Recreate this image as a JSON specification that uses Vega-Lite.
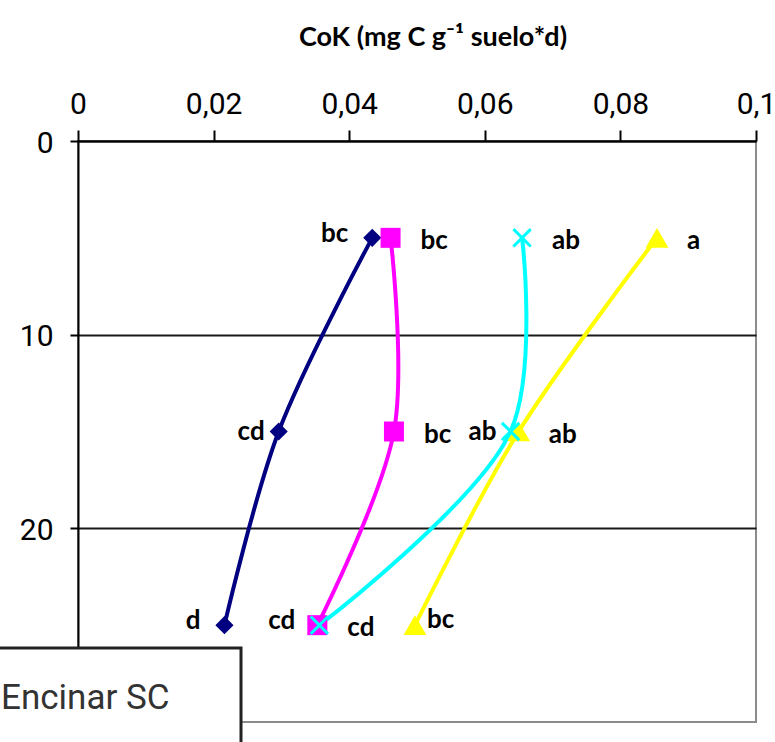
{
  "$schema": "https://vega.github.io/schema/vega-lite/v6.json",
  "autosize": {"type": "none"},
  "padding": {"left": 78, "top": 141, "right": 19, "bottom": 20},
  "width": 678,
  "height": 581,
  "background": "white",
  "title": {
    "text": "CoK (mg C g⁻¹ suelo*d)",
    "font": "Lato",
    "fontSize": 27,
    "fontWeight": "bold",
    "color": "black",
    "anchor": "middle",
    "dx": 16,
    "offset": 37
  },
  "data": {
    "values": [
      {"serie": "Encinar SC", "prof": 5, "cok": 0.0434, "letra": "bc"},
      {"serie": "Encinar SC", "prof": 15, "cok": 0.0296, "letra": "cd"},
      {"serie": "Encinar SC", "prof": 25, "cok": 0.0216, "letra": "d"},
      {"serie": "Serie 2", "prof": 5, "cok": 0.0461, "letra": "bc"},
      {"serie": "Serie 2", "prof": 15, "cok": 0.0466, "letra": "bc"},
      {"serie": "Serie 2", "prof": 25, "cok": 0.0353, "letra": "cd"},
      {"serie": "Serie 3", "prof": 5, "cok": 0.0854, "letra": "a"},
      {"serie": "Serie 3", "prof": 15, "cok": 0.0650, "letra": "ab"},
      {"serie": "Serie 3", "prof": 25, "cok": 0.0497, "letra": "bc"},
      {"serie": "Serie 4", "prof": 5, "cok": 0.0655, "letra": "ab"},
      {"serie": "Serie 4", "prof": 15, "cok": 0.0638, "letra": "ab"},
      {"serie": "Serie 4", "prof": 25, "cok": 0.0356, "letra": "cd"}
    ]
  },
  "encoding": {
    "x": {
      "field": "cok",
      "type": "quantitative",
      "scale": {"domain": [0, 0.1], "nice": false, "zero": false},
      "axis": {
        "orient": "top",
        "values": [0, 0.02, 0.04, 0.06, 0.08, 0.1],
        "labelExpr": "replace(format(datum.value, '.2~f'), '.', ',')",
        "title": null,
        "grid": false,
        "domainColor": "black",
        "domainWidth": 2,
        "tickColor": "black",
        "tickWidth": 2,
        "tickSize": 11,
        "labelFont": "Roboto",
        "labelFontSize": 30,
        "labelColor": "black",
        "labelPadding": 11,
        "labelFlush": false,
        "labelOverlap": false
      }
    },
    "y": {
      "field": "prof",
      "type": "quantitative",
      "scale": {"domain": [0, 30], "reverse": true, "nice": false, "zero": false},
      "axis": {
        "values": [0, 10, 20],
        "title": null,
        "grid": true,
        "gridColor": "#1a1a1a",
        "gridWidth": 2,
        "domainColor": "black",
        "domainWidth": 2,
        "tickColor": "black",
        "tickWidth": 2,
        "tickSize": 8,
        "labelFont": "Roboto",
        "labelFontSize": 30,
        "labelColor": "black",
        "labelPadding": 17,
        "labelOffset": 2,
        "labelFlush": false,
        "labelOverlap": false
      }
    }
  },
  "layer": [
    {
      "mark": {"type": "line", "interpolate": "catmull-rom", "strokeWidth": 4},
      "encoding": {
        "order": {"field": "prof", "type": "quantitative"},
        "color": {
          "field": "serie",
          "type": "nominal",
          "scale": {"domain": ["Encinar SC", "Serie 2", "Serie 3", "Serie 4"], "range": ["#000080", "#ff00ff", "#ffff00", "#00ffff"]},
          "legend": {
            "values": ["Encinar SC"],
            "orient": "none",
            "legendX": -193,
            "legendY": 507,
            "title": null,
            "symbolType": "diamond",
            "symbolSize": 10000,
            "symbolOffset": 235,
            "symbolOpacity": 0,
            "labelOffset": -231,
            "labelFont": "Roboto",
            "labelFontSize": 35,
            "labelColor": "#333333",
            "labelLimit": 400,
            "labelBaseline": "alphabetic",
            "padding": 10,
            "fillColor": "white",
            "strokeColor": "#222222",
            "encode": {"legend": {"update": {"strokeWidth": {"value": 3}}}}
          }
        }
      }
    },
    {
      "transform": [{"filter": "datum.serie != 'Serie 4'"}],
      "mark": {"type": "point", "filled": true, "opacity": 1},
      "encoding": {
        "color": {"field": "serie", "type": "nominal", "legend": null},
        "shape": {
          "field": "serie",
          "type": "nominal",
          "scale": {"domain": ["Encinar SC", "Serie 2", "Serie 3"], "range": ["diamond", "square", "triangle-up"]},
          "legend": null
        },
        "size": {
          "field": "serie",
          "type": "nominal",
          "scale": {"type": "ordinal", "domain": ["Encinar SC", "Serie 2", "Serie 3"], "range": [330, 400, 520]},
          "legend": null
        }
      }
    },
    {
      "transform": [{"filter": "datum.serie == 'Serie 4'"}],
      "mark": {"type": "point", "filled": false, "opacity": 1, "shape": "M-1,-1L1,1M-1,1L1,-1", "size": 300, "strokeWidth": 3},
      "encoding": {
        "color": {"field": "serie", "type": "nominal", "legend": null}
      }
    },
    {
      "transform": [{"filter": "(datum.serie == 'Serie 2') || (datum.serie == 'Serie 3' && datum.prof < 25) || (datum.serie == 'Serie 4' && datum.prof == 5)"}],
      "mark": {"type": "text", "font": "Lato", "fontWeight": "bold", "fontSize": 26, "color": "black", "align": "left", "baseline": "alphabetic", "dx": 30, "dy": 11},
      "encoding": {"text": {"field": "letra"}}
    },
    {
      "transform": [{"filter": "(datum.serie == 'Encinar SC' && datum.prof != 15) || (datum.serie == 'Serie 4' && datum.prof == 25)"}],
      "mark": {"type": "text", "font": "Lato", "fontWeight": "bold", "fontSize": 26, "color": "black", "align": "right", "baseline": "alphabetic", "dx": -24, "dy": 4},
      "encoding": {"text": {"field": "letra"}}
    },
    {
      "transform": [{"filter": "datum.prof == 15 && (datum.serie == 'Encinar SC' || datum.serie == 'Serie 4')"}],
      "mark": {"type": "text", "font": "Lato", "fontWeight": "bold", "fontSize": 26, "color": "black", "align": "right", "baseline": "alphabetic", "dx": -14, "dy": 8},
      "encoding": {"text": {"field": "letra"}}
    },
    {
      "transform": [{"filter": "datum.serie == 'Serie 3' && datum.prof == 25"}],
      "mark": {"type": "text", "font": "Lato", "fontWeight": "bold", "fontSize": 26, "color": "black", "align": "left", "baseline": "alphabetic", "dx": 12, "dy": 3},
      "encoding": {"text": {"field": "letra"}}
    }
  ],
  "config": {
    "view": {"stroke": "#8c8c8c", "strokeWidth": 2}
  }
}
